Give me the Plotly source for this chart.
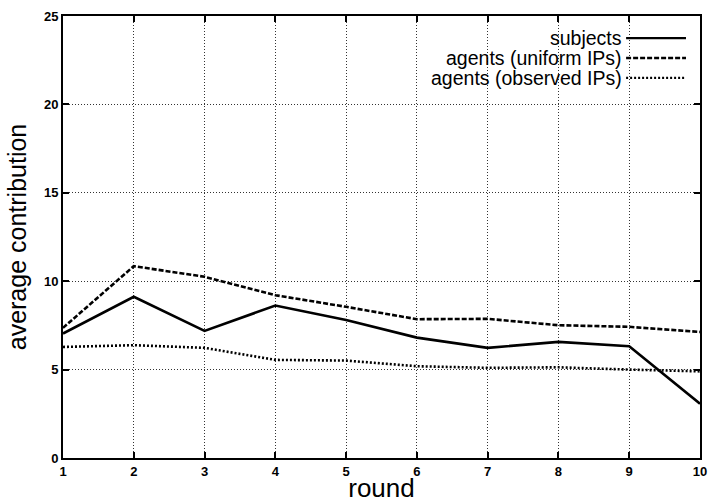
import plotly.graph_objects as go

rounds = [1, 2, 3, 4, 5, 6, 7, 8, 9, 10]
subjects = [7.04, 9.12, 7.19, 8.62, 7.8, 6.81, 6.23, 6.57, 6.32, 3.07]
agents_uniform = [7.36, 10.85, 10.25, 9.21, 8.55, 7.85, 7.87, 7.51, 7.42, 7.13]
agents_observed = [6.28, 6.38, 6.23, 5.55, 5.51, 5.19, 5.10, 5.13, 5.00, 4.90]
series_names = ["subjects", "agents (uniform IPs)", "agents (observed IPs)"]
dashes = ["solid", "5px,2px", "2px,2px"]

FONT = "Liberation Sans, Arial, Helvetica"

fig = go.Figure()
for name, vals, d in zip(series_names, [subjects, agents_uniform, agents_observed], dashes):
    fig.add_trace(go.Scatter(x=rounds, y=vals, mode="lines", name=name,
                             line=dict(color="black", width=2.6, dash=d),
                             showlegend=False))

# legend drawn as right-aligned text with sample lines to the right
ys = [0.95, 0.905, 0.86]
for name, d, yy in zip(series_names, dashes, ys):
    fig.add_annotation(xref="paper", yref="paper", x=0.88, y=yy, text=name,
                       showarrow=False, xanchor="right", yanchor="middle",
                       font=dict(family=FONT, size=19.5, color="black"))
    fig.add_shape(type="line", xref="paper", yref="paper", x0=0.884, x1=0.978, y0=yy, y1=yy,
                  line=dict(color="black", width=2.4, dash=d))

axis_common = dict(showline=True, linecolor="black", linewidth=2, mirror="ticks",
                   ticks="inside", ticklen=6, tickcolor="black", tickwidth=1.5,
                   showgrid=True, gridcolor="#333", griddash="1px,2px", gridwidth=1,
                   zeroline=False,
                   tickfont=dict(family=FONT, size=13, color="black", weight="bold"))

fig.update_xaxes(range=[1, 10], tickvals=rounds, ticktext=[str(r) for r in rounds],
                 title=dict(text="round", font=dict(family=FONT, size=26, color="black"),
                            standoff=0),
                 **axis_common)
fig.update_yaxes(range=[0, 25], tickvals=[0, 5, 10, 15, 20, 25],
                 title=dict(text="average contribution",
                            font=dict(family=FONT, size=25, color="black"),
                            standoff=10),
                 **axis_common)

fig.update_layout(width=713, height=503, margin=dict(l=63, r=6, t=16, b=44),
                  plot_bgcolor="white", paper_bgcolor="white")

fig.write_html("out.html")
